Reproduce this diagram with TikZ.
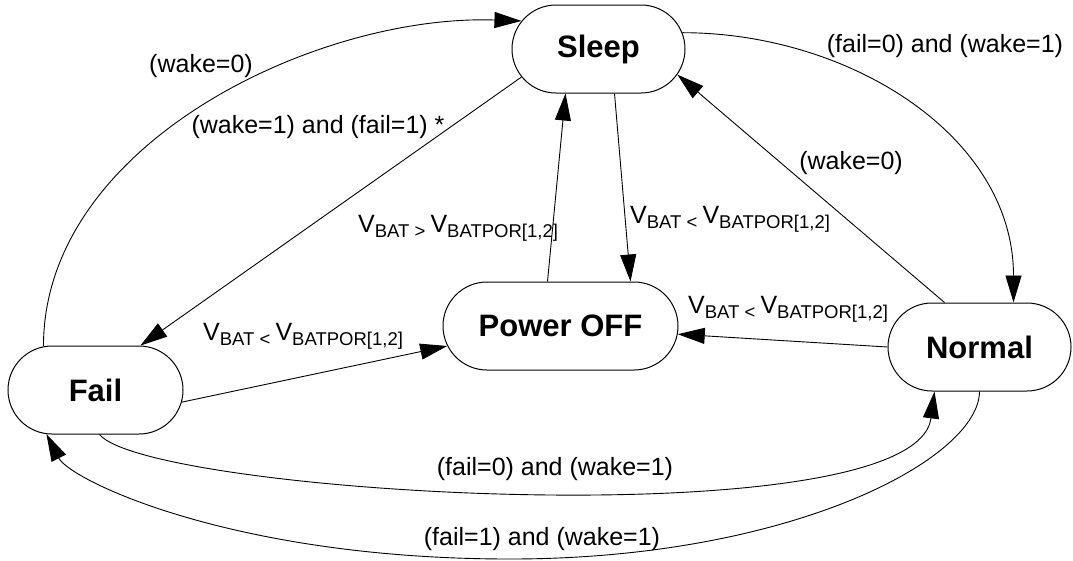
\documentclass[tikz,border=0pt]{standalone}
\usepackage{fontspec}
\setmainfont{Liberation Sans}
\usetikzlibrary{arrows.meta, shapes.misc, positioning}
\newcommand{\lowsub}[1]{\raisebox{-5pt}{\fontsize{18.5}{18.5}\selectfont #1}}
\newcommand{\vbat}[1]{V\lowsub{BAT #1 }V\lowsub{BATPOR[1,2]}}

\begin{document}
\begin{tikzpicture}[x=1pt, y=-1pt,
            state/.style={rounded rectangle, draw, line width=1pt, minimum height=88pt,
                inner sep=0pt, font=\fontsize{31}{36}\selectfont\bfseries},
            lbl/.style={inner sep=0pt, font=\fontsize{25}{30}\selectfont},
            trans/.style={line width=0.9pt, -{Triangle[length=27pt,width=16pt]}}]
            \useasboundingbox (0,0) rectangle (1073,560);

            \node[state, minimum width=173pt] (sleep) at (598.5,49) {Sleep};
            \node[state, minimum width=235pt, below=188pt of sleep, xshift=-38pt] (pwr) {Power OFF};
            \node[state, minimum width=175pt] (fail) at (95.5,390) {Fail};
            \node[state, minimum width=183pt] (normal) at (979.5,347) {Normal};
            \coordinate (low) at (510,559);

            \draw[trans] (fail.140) to[out=90, in=178, looseness=0.9] (sleep.160);
            \draw[trans] (sleep.200) -- ([xshift=45pt]fail.north);
            \draw[trans] (sleep.11) to[out=0, in=90] ([xshift=34pt]normal.north);
            \draw[trans] ([xshift=-35pt]normal.north) -- (sleep.-18);
            \draw[trans] ([xshift=-13pt]pwr.north) -- ([xshift=-33pt]sleep.south);
            \draw[trans] ([xshift=16pt]sleep.south) -- ([xshift=70pt]pwr.north);
            \draw[trans] (fail.-8) -- (pwr.190);
            \draw[trans] (normal.west) -- (pwr.-4);
            \draw[trans] ([xshift=4pt]fail.south) .. controls (150,495) and (915,540) .. ([xshift=-45pt]normal.south);
            \draw[trans] (normal.south) .. controls (979,459) and (791,559) .. (low)
                .. controls (232,559) and (70,480) .. (fail.222);

            \node[lbl] (wakezeroa) at (201,66) {(wake=0)};
            \node[lbl] (wakeonefailone) at (318,127) {(wake=1) and (fail=1) *};
            \node[lbl] (failzeroa) at (945,46) {(fail=0) and (wake=1)};
            \node[lbl] (wakezerob) at (851,163) {(wake=0)};
            \node[lbl, anchor=base west] (vgt) at (358,232) {\vbat{>}};
            \node[lbl, anchor=base west] (vlta) at (630,223) {\vbat{<}};
            \node[lbl, anchor=base west] (vltb) at (203,340) {\vbat{<}};
            \node[lbl, anchor=base west] (vltc) at (688,313) {\vbat{<}};
            \node[lbl] (failzerob) at (555,469) {(fail=0) and (wake=1)};
            \node[lbl] (failone) at (542,539) {(fail=1) and (wake=1)};
        \end{tikzpicture}
\end{document}
